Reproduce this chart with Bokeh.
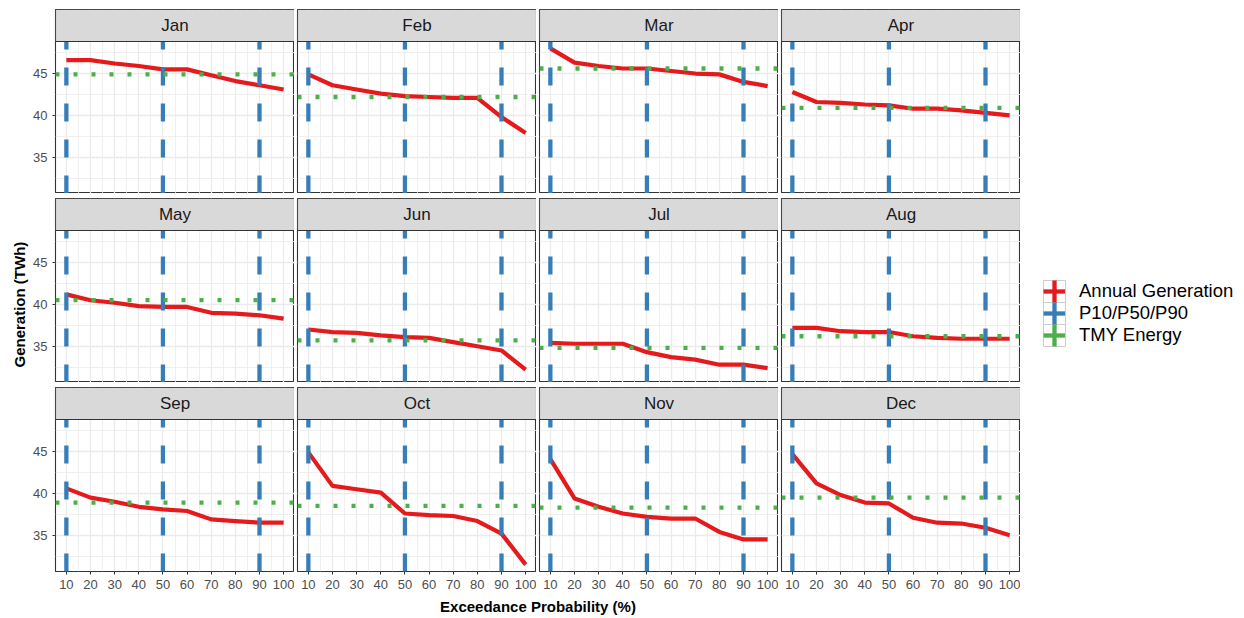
import numpy as np
from bokeh.plotting import figure
from bokeh.layouts import row, column
from bokeh.models import FixedTicker, Range1d, Legend, LegendItem, Title, Label
from bokeh.core.properties import value
from bokeh.embed import file_html
from bokeh.resources import INLINE

# ---------------- data ----------------
months = ["Jan", "Feb", "Mar", "Apr", "May", "Jun",
          "Jul", "Aug", "Sep", "Oct", "Nov", "Dec"]
exceedance = [10, 20, 30, 40, 50, 60, 70, 80, 90, 100]

gen_jan = [46.6, 46.6, 46.2, 45.9, 45.5, 45.5, 44.8, 44.1, 43.6, 43.1]
gen_feb = [44.9, 43.6, 43.1, 42.6, 42.3, 42.2, 42.1, 42.1, 39.8, 37.9]
gen_mar = [48.0, 46.3, 45.9, 45.6, 45.6, 45.3, 45.0, 44.9, 44.0, 43.5]
gen_apr = [42.8, 41.6, 41.5, 41.3, 41.2, 40.8, 40.8, 40.6, 40.3, 40.0]
gen_may = [41.2, 40.5, 40.2, 39.8, 39.7, 39.7, 39.0, 38.9, 38.7, 38.3]
gen_jun = [37.0, 36.7, 36.6, 36.3, 36.1, 36.0, 35.5, 35.0, 34.5, 32.2]
gen_jul = [35.4, 35.3, 35.3, 35.3, 34.3, 33.7, 33.4, 32.8, 32.8, 32.4]
gen_aug = [37.2, 37.2, 36.8, 36.7, 36.7, 36.2, 36.0, 35.9, 35.9, 35.9]
gen_sep = [40.6, 39.5, 39.0, 38.4, 38.1, 37.9, 36.9, 36.7, 36.5, 36.5]
gen_oct = [44.9, 40.9, 40.5, 40.1, 37.6, 37.4, 37.3, 36.7, 35.2, 31.5]
gen_nov = [44.1, 39.4, 38.4, 37.6, 37.2, 37.0, 37.0, 35.4, 34.5, 34.5]
gen_dec = [44.7, 41.2, 39.8, 38.9, 38.8, 37.1, 36.5, 36.4, 35.9, 35.0]
annual_generation = [gen_jan, gen_feb, gen_mar, gen_apr, gen_may, gen_jun,
                     gen_jul, gen_aug, gen_sep, gen_oct, gen_nov, gen_dec]

tmy_energy = [44.9, 42.2, 45.6, 40.9, 40.5, 35.7, 34.8, 36.2, 38.9, 38.5, 38.3, 39.5]
p_levels = [10, 50, 90]

x_ticks = [10, 20, 30, 40, 50, 60, 70, 80, 90, 100]
y_ticks = [35, 40, 45]
legend_labels = ["Annual Generation", "P10/P50/P90", "TMY Energy"]

# ---------------- style ----------------
RED, BLUE, GREEN = "#E41A1C", "#377EB8", "#4DAF4A"
FONT = "Liberation Sans"
GRID = "#EBEBEB"
DARK = "#333333"

all_vals = np.concatenate([np.array(a) for a in annual_generation] + [np.array(tmy_energy)])
ymin, ymax = float(all_vals.min()), float(all_vals.max())
ypad = 0.05 * (ymax - ymin)
y_lo, y_hi = ymin - ypad, ymax + ypad
xpad = 0.05 * (max(exceedance) - min(exceedance))
x_lo, x_hi = min(exceedance) - xpad, max(exceedance) + xpad

FRAME_W, PANEL_H, STRIP_H = 239, 152, 32
FRAME_H = PANEL_H + STRIP_H
y_top = y_hi + (y_hi - y_lo) * STRIP_H / PANEL_H

left_b = [55, 3, 3, 3]
top_b = [9, 5, 5]
bottom_b = [0, 0, 25]

x_minor = [(a + b) / 2 for a, b in zip(x_ticks[:-1], x_ticks[1:])]
y_minor = [y_ticks[0] - 2.5] + [(a + b) / 2 for a, b in zip(y_ticks[:-1], y_ticks[1:])] + [y_ticks[-1] + 2.5]

rows = []
for r in range(3):
    figs = []
    for c in range(4):
        i = r * 4 + c
        p = figure(width=left_b[c] + FRAME_W, height=top_b[r] + FRAME_H + bottom_b[r],
                   x_range=Range1d(x_lo, x_hi), y_range=Range1d(y_lo, y_top),
                   output_backend="svg", toolbar_location=None,
                   x_axis_location="below" if r == 2 else None,
                   y_axis_location="left" if c == 0 else None,
                   min_border_left=left_b[c], min_border_right=0,
                   min_border_top=top_b[r], min_border_bottom=bottom_b[r])
        p.outline_line_color = DARK
        p.outline_line_width = 1.1
        p.background_fill_color = "white"
        p.border_fill_color = "white"

        p.xgrid.ticker = FixedTicker(ticks=x_ticks, minor_ticks=x_minor)
        p.ygrid.ticker = FixedTicker(ticks=y_ticks, minor_ticks=y_minor)
        for g in (p.xgrid, p.ygrid):
            g.grid_line_color = GRID
            g.grid_line_width = 1.3
            g.minor_grid_line_color = GRID
            g.minor_grid_line_width = 0.8

        if r == 2:
            ax = p.xaxis[0]
            ax.ticker = FixedTicker(ticks=x_ticks)
        if c == 0:
            ay = p.yaxis[0]
            ay.ticker = FixedTicker(ticks=y_ticks)
        for ax in list(p.xaxis) + list(p.yaxis):
            ax.axis_line_color = None
            ax.major_tick_line_color = DARK
            ax.major_tick_out = 3
            ax.major_tick_in = 0
            ax.minor_tick_line_color = None
            ax.major_label_text_font = FONT
            ax.major_label_text_font_size = "13px"
            ax.major_label_text_color = "#4D4D4D"
            ax.major_label_standoff = 5

        # data
        p.line(exceedance, annual_generation[i], line_color=RED, line_width=4.2,
               line_join="round")
        p.segment(x0=p_levels, y0=[y_lo] * len(p_levels), x1=p_levels, y1=[y_hi] * len(p_levels),
                  line_color=BLUE, line_width=4.3, line_dash="18 18")
        p.segment(x0=[x_lo], y0=[tmy_energy[i]], x1=[x_hi], y1=[tmy_energy[i]],
                  line_color=GREEN, line_width=4.3, line_dash="4 14")

        # facet strip
        p.quad(left=[x_lo], right=[x_hi], bottom=[y_hi], top=[y_top],
               fill_color="#D9D9D9", line_color=DARK, line_width=1.1)
        p.text(x=[(x_lo + x_hi) / 2], y=[(y_hi + y_top) / 2], text=[months[i]],
               text_align="center", text_baseline="middle",
               text_font=value(FONT), text_font_size="17px", text_color="#1A1A1A")

        if r == 1 and c == 0:
            t = Title(text="Generation (TWh)", align="left", offset=15,
                      text_font=FONT, text_font_size="15px", text_font_style="bold",
                      text_color="black", standoff=6)
            p.add_layout(t, "left")
        figs.append(p)
    rows.append(row(*figs))

# x-axis title
grid_w = sum(left_b) + 4 * FRAME_W
xl = figure(width=grid_w, height=22, output_backend="svg", toolbar_location=None,
            x_axis_location=None, y_axis_location=None, min_border=0,
            x_range=Range1d(0, grid_w), y_range=Range1d(0, 22))
xl.outline_line_color = None
xl.grid.visible = False
xl.add_layout(Label(x=left_b[0] + (grid_w - left_b[0]) / 2, y=12,
                    text="Exceedance Probability (%)", text_align="center",
                    text_baseline="middle", text_font=FONT, text_font_size="15px",
                    text_font_style="bold", text_color="black"))

# legend figure (pixel-unit ranges)
LW, LH = 1244 - grid_w, 618
lf = figure(width=LW, height=LH, output_backend="svg", toolbar_location=None,
            x_axis_location=None, y_axis_location=None, min_border=0,
            x_range=Range1d(0, LW), y_range=Range1d(0, LH))
lf.outline_line_color = None
lf.grid.visible = False

KEY_W, KEY_H = 22, 22
LEG_X, LEG_Y = 23, 272            # bottom-left corner of legend (pixels)
n_items = len(legend_labels)
key_tops = [LEG_Y + n_items * KEY_H - k * KEY_H for k in range(n_items)]
key_bots = [t - KEY_H for t in key_tops]
colors = [RED, BLUE, GREEN]

# key boxes and vertical strokes of the "+" keys
lf.quad(left=[LEG_X] * n_items, right=[LEG_X + KEY_W] * n_items,
        bottom=key_bots, top=key_tops, fill_color="white",
        line_color="#CCCCCC", line_width=1)
lf.segment(x0=[LEG_X + KEY_W / 2] * n_items, y0=key_bots,
           x1=[LEG_X + KEY_W / 2] * n_items, y1=key_tops,
           line_color=colors, line_width=4.3)

items = []
for lab, col in zip(legend_labels, colors):
    rh = lf.line(x=[-100, -90], y=[-100, -90], line_color=col, line_width=4.3)
    items.append(LegendItem(label=lab, renderers=[rh]))
legend = Legend(items=items, location=(LEG_X, LEG_Y), glyph_width=KEY_W, glyph_height=KEY_H,
                spacing=0, label_standoff=14, padding=0, margin=0,
                border_line_color=None, background_fill_alpha=0,
                label_height=KEY_H,
                label_text_font=FONT, label_text_font_size="18.5px", label_text_color="black")
lf.add_layout(legend, "center")

layout = row(column(*rows, xl), lf)
open("out.html", "w").write(file_html(layout, INLINE))
